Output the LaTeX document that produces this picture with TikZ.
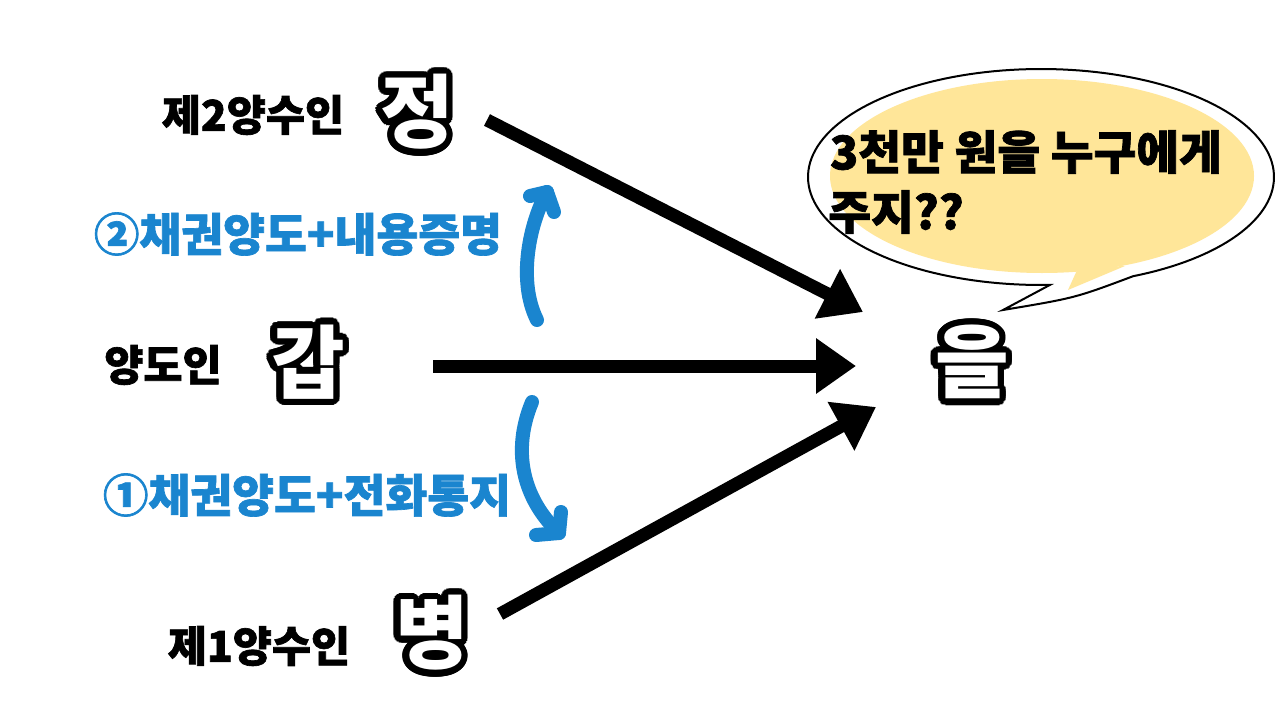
\documentclass[tikz,border=0pt]{standalone}
\usepackage{fontspec}
\newfontfamily\kr{Noto Sans CJK KR}[BoldFeatures={FakeBold=1.5}]
\newfontfamily\krin{Noto Sans CJK KR}
\usetikzlibrary{calc,arrows.meta}
\definecolor{lblue}{HTML}{1A85CF}
\definecolor{bubbleyellow}{HTML}{FFE699}
\newcommand\olt[1]{\hbox{%
  \foreach \ang in {0,15,...,345}{%
    \pgfmathsetlengthmacro\odx{6.5pt*cos(\ang)}%
    \pgfmathsetlengthmacro\ody{6.5pt*sin(\ang)}%
    \rlap{\kern\odx\raise\ody\hbox{\color{black}#1}}}%
  \color{white}#1}}
\begin{document}
\begin{tikzpicture}[x=1pt,y=-1pt,
  lab/.style={font=\kr\bfseries\fontsize{42.5}{50}\selectfont, inner sep=0pt},
  bluelab/.style={font=\kr\bfseries\fontsize{45.5}{52}\selectfont, text=lblue, inner sep=0pt},
  bubtext/.style={font=\kr\bfseries\fontsize{46.5}{60}\selectfont, inner sep=0pt},
  big/.style={font=\krin\bfseries\fontsize{80}{90}\selectfont, inner sep=0pt},
  blackarrow/.style={line width=13pt, -{Triangle[length=40pt,width=53pt]}},
  bluearr/.style={line width=14pt, draw=lblue, line cap=round, line join=round}]
\useasboundingbox (0,0) rectangle (1280,720);
\fill[white] (0,0) rectangle (1280,720);

% speech bubble
\draw[line width=2pt, fill=white]
  plot[domain=87.8:426.7, samples=160] ({1041+233*cos(\x)},{177+108*sin(\x)})
  .. controls (1075,298) .. (1003,310) -- cycle;
\fill[bubbleyellow] (1042,176) ellipse [x radius=212pt, y radius=97pt];
\fill[bubbleyellow] (1078,268) -- (1068,290) -- (1125,266) -- cycle;
\node[bubtext] (q1) at (1026,152) {3천만 원을 누구에게};
\node[bubtext] (q2) at (896,212) {주지??};

% labels
\node[lab] (l2) at (253,115) {제2양수인};
\node[lab] (l0) at (163,365) {양도인};
\node[lab] (l1) at (259,646) {제1양수인};
\node[bluelab] (b2) at (298,234) {②채권양도+내용증명};
\node[bluelab] (b1) at (307,495) {①채권양도+전화통지};

% big outlined characters
\node[big] (jeong) at (417,112) {\olt{정}};
\node[big] (gap) at (308,362) {\olt{갑}};
\node[big] (eul) at (972,362) {\olt{을}};
\node[big] (byeong) at (432,633) {\olt{병}};

% black arrows
\coordinate (jeong-out) at (487,120);
\coordinate (gap-out) at (433,366);
\coordinate (byeong-out) at (500,614);
\coordinate (eul-in1) at (863,312);
\coordinate (eul-in0) at (856,366);
\coordinate (eul-in2) at (876,407);
\draw[blackarrow] (jeong-out) -- (eul-in1);
\draw[blackarrow] (gap-out) -- (eul-in0);
\draw[blackarrow] (byeong-out) -- (eul-in2);

% blue curved arrows
\coordinate (u0) at (537,320);
\coordinate (u1) at (547,192);
\draw[bluearr] (u0) .. controls (517,280) and (530,222) .. (u1);
\draw[bluearr] ($(u1)+(-17,4)$) -- (u1) -- ($(u1)+(7,20)$);
\coordinate (d0) at (532,402);
\coordinate (d1) at (559,533);
\draw[bluearr] (d0) .. controls (512,450) and (522,498) .. (d1);
\draw[bluearr] ($(d1)+(2,-21)$) -- (d1) -- ($(d1)+(-23,2)$);
\end{tikzpicture}
\end{document}
